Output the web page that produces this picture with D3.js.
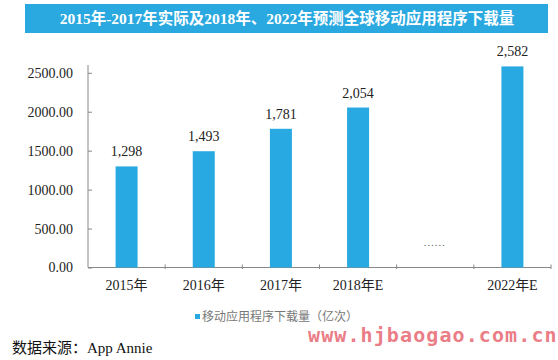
<!DOCTYPE html>
<html><head><meta charset="utf-8">
<script src="https://cdn.jsdelivr.net/npm/d3@7"></script>
<style>
body{margin:0;background:#fff;}
svg{display:block;}
</style></head>
<body>
<svg id="c" width="558" height="360"></svg>
<script>
const title = "2015年-2017年实际及2018年、2022年预测全球移动应用程序下载量";
const categories = ["2015年","2016年","2017年","2018年E","","2022年E"];
const values = [1298, 1493, 1781, 2054, null, 2582];
const yTicks = [0, 500, 1000, 1500, 2000, 2500];
const seriesName = "移动应用程序下载量（亿次）";
const gapMark = "……";
const source = "数据来源：App Annie";
const watermark = "www.hjbaogao.com.cn";

const svg = d3.select("#c");
const serif = "'Liberation Serif','Noto Sans CJK SC',serif";
const barColor = "#29a9e1";

// title bar
svg.append("rect").attr("x",25).attr("y",4).attr("width",523).attr("height",29).attr("fill","#2aa8e0");
svg.append("text").attr("x",287).attr("y",24).attr("text-anchor","middle")
  .attr("fill","#fff").attr("font-weight","bold").attr("font-size",15.5).attr("font-family",serif)
  .text(title);

const x = d3.scaleBand().domain(d3.range(categories.length)).range([88,551]).paddingInner(0).paddingOuter(0);
const y = d3.scaleLinear().domain([0,2600]).range([267.5,65]);

// y axis
const gy = svg.append("g").attr("transform","translate(88,0)")
  .call(d3.axisRight(y).tickValues(yTicks).tickSize(4).tickFormat(d=>d3.format(".2f")(d)));
gy.select(".domain").attr("stroke","#888").attr("d","M0,65V267.5");
gy.selectAll(".tick line").attr("stroke","#888");
gy.selectAll(".tick text").attr("x",-15).attr("text-anchor","end").attr("fill","#222")
  .attr("font-size",14).attr("font-family",serif);

// x axis
const gx = svg.append("g").attr("transform","translate(0,267.5)");
gx.append("line").attr("x1",88).attr("x2",551).attr("stroke","#888");
const bounds = d3.range(categories.length+1).map(i=> i<categories.length ? x(i) : x(categories.length-1)+x.bandwidth());
gx.selectAll(".tk").data(bounds.slice(1)).join("line").attr("class","tk")
  .attr("x1",d=>d).attr("x2",d=>d).attr("y1",-3).attr("y2",1.5).attr("stroke","#888");
gx.selectAll(".lb").data(categories).join("text").attr("class","lb")
  .attr("x",(d,i)=>x(i)+x.bandwidth()/2).attr("y",22).attr("text-anchor","middle")
  .attr("font-size",14).attr("font-family",serif).attr("fill","#222").text(d=>d);

// bars
const bw = 22;
const data = values.map((v,i)=>({i,v})).filter(d=>d.v!=null);
svg.selectAll(".bar").data(data).join("rect").attr("class","bar")
  .attr("x",d=>x(d.i)+x.bandwidth()/2-bw/2).attr("width",bw)
  .attr("y",d=>y(d.v)).attr("height",d=>y(0)-y(d.v)).attr("fill",barColor);
svg.selectAll(".vl").data(data).join("text").attr("class","vl")
  .attr("x",d=>x(d.i)+x.bandwidth()/2).attr("y",d=>y(d.v)-10).attr("text-anchor","middle")
  .attr("font-size",14).attr("font-family",serif).attr("fill","#222")
  .text(d=>d3.format(",")(d.v));

// gap mark
svg.append("text").attr("x",x(4)+x.bandwidth()/2-1).attr("y",246).attr("text-anchor","middle")
  .attr("font-size",11).attr("font-family",serif).attr("fill","#666").text(gapMark);

// legend
svg.append("rect").attr("x",195).attr("y",314).attr("width",5).attr("height",5).attr("fill",barColor);
svg.append("text").attr("x",202).attr("y",320.5).attr("font-size",12)
  .attr("font-family","'Noto Sans CJK SC',sans-serif").attr("fill","#777").text(seriesName);

// source
svg.append("text").attr("x",12).attr("y",353).attr("font-size",15)
  .attr("font-family","'Liberation Serif','Noto Sans CJK SC',serif").attr("fill","#111").text(source);

// watermark
svg.append("text").attr("x",308).attr("y",342).attr("font-size",20).attr("font-weight","bold")
  .attr("font-family","'DejaVu Sans Mono',monospace").attr("letter-spacing",1.1)
  .attr("fill","#e8707a").attr("opacity",0.9).text(watermark);
</script>
</body></html>
